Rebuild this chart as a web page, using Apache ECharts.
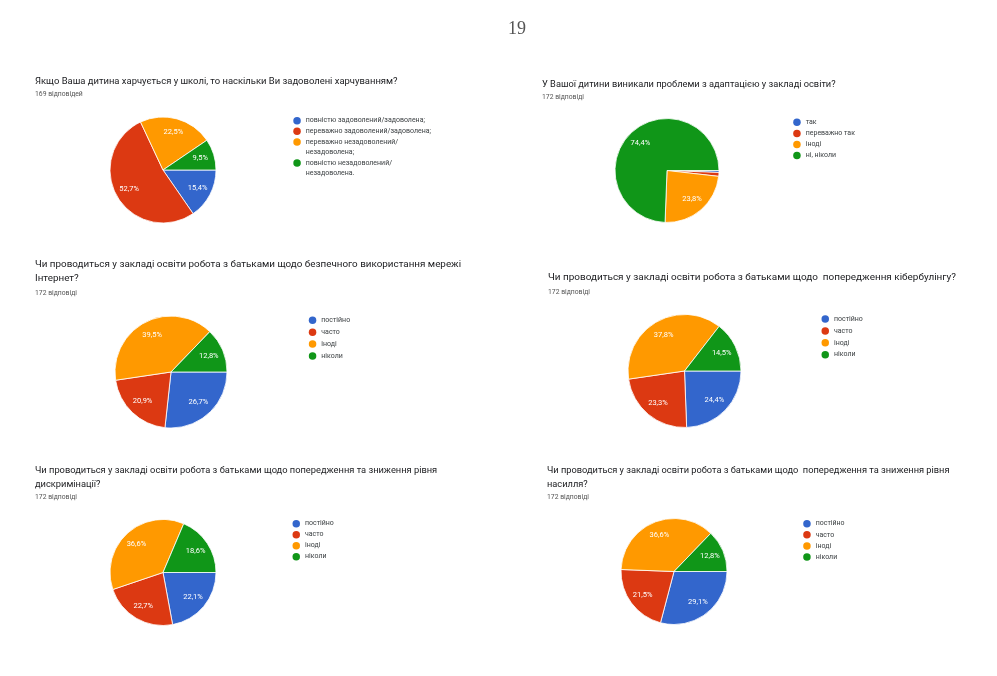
<!DOCTYPE html>
<html>
<head>
<meta charset="utf-8">
<script src="https://cdn.jsdelivr.net/npm/echarts@6/dist/echarts.min.js"></script>
<style>
html,body{margin:0;padding:0;background:#fff;}
#main{width:997px;height:676px;}
</style>
</head>
<body>
<div id="main"></div>
<script>
// ---- data ----
const pageNumber = '19';
const foodTitle = 'Якщо Ваша дитина харчується у школі, то наскільки Ви задоволені харчуванням?';
const foodSub = '169 відповідей';
const foodCats = ['повністю задоволений/задоволена;', 'переважно задоволений/задоволена;', 'переважно незадоволений/незадоволена;', 'повністю незадоволений/незадоволена.'];
const foodVals = [15.4, 52.7, 22.5, 9.5];

const adaptTitle = 'У Вашої дитини виникали проблеми з адаптацією у закладі освіти?';
const adaptSub = '172 відповіді';
const adaptCats = ['так', 'переважно так', 'іноді', 'ні, ніколи'];
const adaptVals = [0.6, 1.2, 23.8, 74.4];

const freqCats = ['постійно', 'часто', 'іноді', 'ніколи'];

const internetTitle = 'Чи проводиться у закладі освіти робота з батьками щодо безпечного використання мережі\nІнтернет?';
const internetSub = '172 відповіді';
const internetVals = [26.7, 20.9, 39.5, 12.8];

const cyberTitle = 'Чи проводиться у закладі освіти робота з батьками щодо  попередження кібербулінгу?';
const cyberSub = '172 відповіді';
const cyberVals = [24.4, 23.3, 37.8, 14.5];

const discrimTitle = 'Чи проводиться у закладі освіти робота з батьками щодо попередження та зниження рівня\nдискримінації?';
const discrimSub = '172 відповіді';
const discrimVals = [22.1, 22.7, 36.6, 18.6];

const violenceTitle = 'Чи проводиться у закладі освіти робота з батьками щодо  попередження та зниження рівня\nнасилля?';
const violenceSub = '172 відповіді';
const violenceVals = [29.1, 21.5, 36.6, 12.8];

const colors = ['#3366cc', '#dc3912', '#ff9900', '#109618'];

// ---- helpers ----
const FONT = 'Roboto';
function fmt(v){ return v.toFixed(1).replace('.', ',') + '%'; }
function wrap(name){ return name.length > 34 ? name.replace('/', '/\n') : name; }

function makePie(id, cats, vals, center, r){
  const data = cats.map((c, i) => ({name: c, value: vals[i], itemStyle: {color: colors[i]}}));
  const main = {
    type: 'pie', id: id + '_main', center: center, radius: [0, r],
    startAngle: 0, clockwise: true, silent: true,
    label: {show: false}, labelLine: {show: false},
    itemStyle: {borderColor: '#fff', borderWidth: 0.8},
    emphasis: {disabled: true},
    data: data
  };
  const lab = {
    type: 'pie', id: id + '_lab', center: center, radius: [r * 0.36, r],
    startAngle: 0, clockwise: true, silent: true,
    itemStyle: {color: 'rgba(0,0,0,0)', borderWidth: 0},
    label: {show: true, position: 'inside', color: '#fff', fontFamily: FONT, fontSize: 7.5,
      formatter: p => p.value < 5 ? '' : fmt(p.value)},
    labelLine: {show: false},
    emphasis: {disabled: true},
    data: cats.map((c, i) => ({name: c, value: vals[i]}))
  };
  return [main, lab];
}

// one legend component per item; wrapped items get leading blank lines so the dot sits on their first line
function makeLegends(cats, dotX, firstY, step, lineH){
  const out = [];
  let y = firstY;
  cats.forEach((c, i) => {
    const n = wrap(c).split('\n').length;
    out.push({
      orient: 'vertical', left: dotX - 4.5, top: y - (2 * n - 1) * lineH / 2, padding: 0,
      itemWidth: 7.5, itemHeight: 7.5, icon: 'circle', selectedMode: false,
      itemStyle: {borderWidth: 0},
      textStyle: {fontFamily: FONT, fontSize: 7, color: '#3c4043', lineHeight: lineH},
      formatter: name => '\n'.repeat(n - 1) + wrap(name),
      data: [{name: c, itemStyle: {color: colors[i], borderWidth: 0}}]
    });
    y += (n - 1) * lineH + step;
  });
  return out;
}

function makeTitle(text, sub, left, top, fs, lh, gap){
  return {
    text: text, subtext: sub, left: left, top: top, padding: 0, itemGap: gap,
    textStyle: {fontFamily: FONT, fontSize: fs, lineHeight: lh, fontWeight: 'normal', color: '#202124'},
    subtextStyle: {fontFamily: FONT, fontSize: 6.8, lineHeight: 9, color: '#555'}
  };
}

const chart = echarts.init(document.getElementById('main'), null, {renderer: 'canvas'});
chart.setOption({
  backgroundColor: '#fff',
  animation: false,
  title: [
    {text: pageNumber, left: 508, top: 20, padding: 0,
     textStyle: {fontFamily: 'Liberation Serif', fontSize: 18, fontWeight: 'normal', color: '#555'}},
    makeTitle(foodTitle, foodSub, 35, 76, 9.45, 12, 1.5),
    makeTitle(adaptTitle, adaptSub, 542, 79, 9.25, 12, 1.5),
    makeTitle(internetTitle, internetSub, 35, 258, 9.85, 14, 2.5),
    makeTitle(cyberTitle, cyberSub, 548, 271, 9.95, 14, 2.5),
    makeTitle(discrimTitle, discrimSub, 35, 464, 9.3, 13.5, 2),
    makeTitle(violenceTitle, violenceSub, 547, 464, 9.25, 13.5, 2)
  ],
  legend: [].concat(
    makeLegends(foodCats, 297.8, 120.7, 10.6, 10.6),
    makeLegends(adaptCats, 797.7, 122.3, 11.1, 10.6),
    makeLegends(freqCats, 313.3, 320.3, 11.9, 10.6),
    makeLegends(freqCats, 826, 319, 11.9, 10.6),
    makeLegends(freqCats, 297, 523.7, 11, 10.6),
    makeLegends(freqCats, 807.7, 523.7, 11.1, 10.6)
  ),
  series: [].concat(
    makePie('food', foodCats, foodVals, [163, 170], 53),
    makePie('adapt', adaptCats, adaptVals, [667, 170.5], 52),
    makePie('internet', freqCats, internetVals, [171, 372], 56),
    makePie('cyber', freqCats, cyberVals, [684.5, 371], 56.5),
    makePie('discrim', freqCats, discrimVals, [163, 572.5], 53),
    makePie('violence', freqCats, violenceVals, [674, 571.5], 53)
  )
});
</script>
</body>
</html>
